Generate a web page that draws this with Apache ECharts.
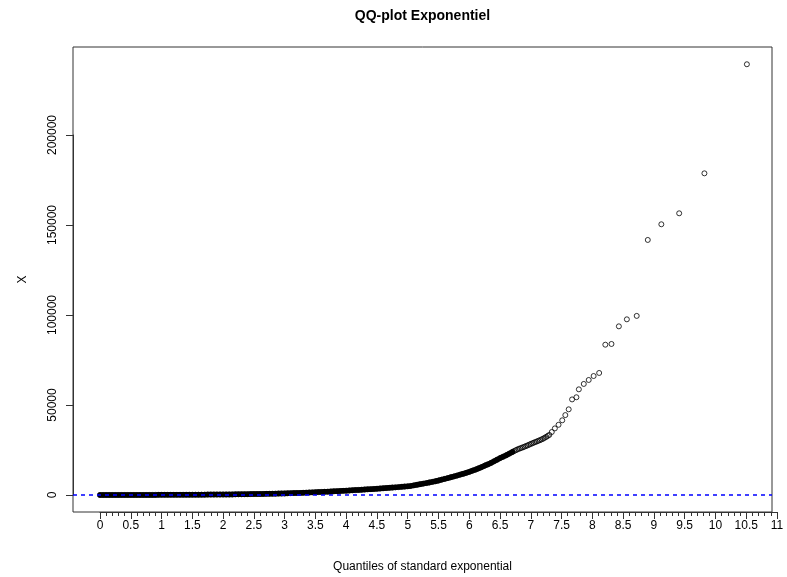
<!DOCTYPE html>
<html><head><meta charset="utf-8">
<script src="https://cdn.jsdelivr.net/npm/echarts@6/dist/echarts.min.js"></script>
<style>html,body{margin:0;padding:0;background:#fff}#c{width:787px;height:577px}</style>
</head><body><div id="c"></div>
<script>
// Theoretical quantiles (standard exponential) and sample values
const bodyQuantiles = [
  0.00,0.05,0.10,0.15,0.20,0.25,0.30,0.35,0.40,0.45,0.50,0.55,0.60,0.65,0.70,0.75,0.80,0.85,0.90,0.95,
  1.00,1.05,1.10,1.15,1.20,1.25,1.30,1.35,1.40,1.45,1.50,1.55,1.60,1.65,1.70,1.75,1.80,1.85,1.90,1.95,
  2.00,2.05,2.10,2.15,2.20,2.25,2.30,2.35,2.40,2.45,2.50,2.55,2.60,2.65,2.70,2.75,2.80,2.85,2.90,2.95,
  3.00,3.05,3.10,3.15,3.20,3.25,3.30,3.35,3.40,3.45,3.50,3.55,3.60,3.65,3.70,3.75,3.80,3.85,3.90,3.95,
  4.00,4.05,4.10,4.15,4.20,4.25,4.30,4.35,4.40,4.45,4.50,4.55,4.60,4.65,4.70,4.75,4.80,4.85,4.90,4.95,
  5.00,5.05,5.10,5.15,5.20,5.25,5.30,5.35,5.40,5.45,5.50,5.55,5.60,5.65,5.70,5.75,5.80,5.85,5.90,5.95,
  6.00,6.05,6.10,6.15,6.20,6.25,6.30,6.35,6.40,6.45,6.50,6.55,6.60,6.65,6.70
];
const bodyValues = [
  0,2,5,8,10,13,16,19,22,26,30,34,38,42,46,51,56,61,67,73,
  80,86,93,100,108,116,124,132,141,150,160,170,181,192,204,216,229,242,256,270,
  285,300,320,340,360,385,410,435,460,490,520,550,580,610,640,680,720,760,800,850,
  900,950,1000,1060,1120,1180,1250,1320,1390,1460,1540,1620,1700,1780,1860,1950,2040,2130,2220,2320,
  2420,2520,2620,2720,2820,2930,3040,3150,3260,3370,3490,3610,3730,3850,3980,4110,4240,4380,4520,4670,
  4820,5050,5350,5680,6000,6300,6600,6950,7300,7650,8050,8500,8950,9400,9850,10300,10800,11300,11800,12350,
  12900,13500,14100,14800,15500,16300,17000,17800,18700,19600,20500,21300,22100,23000,23900
];
const upperQuantiles = [6.725,6.75,6.775,6.80,6.825,6.85,6.875,6.90,6.925,6.95,6.975,7.00,7.025,7.05,7.075,7.10,7.125,7.15,7.175,7.20,7.225,7.25,7.275,7.30];
const upperValues = [24350,24800,25200,25600,25900,26200,26550,26900,27250,27600,28000,28400,28750,29100,29450,29800,30150,30500,30900,31300,31800,32300,32850,33400];
const tailQuantiles = [7.34,7.39,7.45,7.51,7.56,7.615,7.67,7.74,7.78,7.86,7.94,8.02,8.11,8.21,8.31,8.43,8.56,8.72,8.90,9.12,9.41,9.82,10.51];
const tailValues = [35000,37000,39000,41500,44400,47600,53100,54300,58700,61700,63900,66100,67800,83500,83900,93700,97600,99500,141700,150400,156500,178700,239300];

const xTickLabels = [0,0.5,1,1.5,2,2.5,3,3.5,4,4.5,5,5.5,6,6.5,7,7.5,8,8.5,9,9.5,10,10.5,11];
const yTickLabels = [0,50000,100000,150000,200000];
const referenceLine = [0];

const bodyPoints = bodyQuantiles.map((q, i) => [q, bodyValues[i]]);
const points = bodyPoints.slice();
upperQuantiles.forEach((q, i) => points.push([q, upperValues[i]]));
tailQuantiles.forEach((q, i) => points.push([q, tailValues[i]]));

const FONT = '"Liberation Sans", Arial, sans-serif';
const AX = '#333';
const BLUE = '#0000ff';
const chart = echarts.init(document.getElementById('c'), null, {renderer: 'canvas'});
chart.setOption({
  animation: false,
  backgroundColor: '#fff',
  textStyle: {fontFamily: FONT},
  graphic: [{
    type: 'text', x: 422.5, y: 16,
    style: {text: 'QQ-plot Exponentiel', font: 'bold 14px ' + FONT, fill: '#000', textAlign: 'center', textVerticalAlign: 'middle'}
  }],
  grid: [
    {left: 73, top: 47, width: 699, height: 465, show: true, borderColor: AX, borderWidth: 1, backgroundColor: 'transparent', outerBoundsMode: 'none', containLabel: false},
    {left: 100, top: 511, width: 677, height: 1, show: false, outerBoundsMode: 'none', containLabel: false},
    {left: 73, top: 135, width: 1, height: 360, show: false, outerBoundsMode: 'none', containLabel: false}
  ],
  xAxis: [
    {gridIndex: 0, type: 'value', min: -0.4387, max: 10.918,
     axisLine: {show: false}, axisTick: {show: false}, axisLabel: {show: false}, splitLine: {show: false},
     name: 'Quantiles of standard exponential', nameLocation: 'middle', nameGap: 49,
     nameTextStyle: {fontSize: 12, color: '#000', fontFamily: FONT}},
    {gridIndex: 1, type: 'value', min: 0, max: 11, interval: 0.5,
     axisLine: {show: true, lineStyle: {color: AX, width: 1}},
     axisTick: {show: true, length: 7, lineStyle: {color: AX}},
     minorTick: {show: true, splitNumber: 5, length: 4, lineStyle: {color: AX}},
     splitLine: {show: false}, minorSplitLine: {show: false},
     axisLabel: {fontSize: 12, color: '#000', margin: 8, fontFamily: FONT, showMinLabel: true, showMaxLabel: true,
       formatter: v => { const t = xTickLabels.find(l => Math.abs(l - v) < 1e-6); return t === undefined ? '' : String(t); }}},
    {gridIndex: 2, type: 'value', show: false, min: 0, max: 1}
  ],
  yAxis: [
    {gridIndex: 0, type: 'value', min: -9444, max: 248889,
     axisLine: {show: false}, axisTick: {show: false}, axisLabel: {show: false}, splitLine: {show: false},
     name: 'X', nameLocation: 'middle', nameGap: 44, nameRotate: 90,
     nameTextStyle: {fontSize: 12, color: '#000', fontFamily: FONT}},
    {gridIndex: 1, type: 'value', show: false, min: 0, max: 1},
    {gridIndex: 2, type: 'value', min: 0, max: 200000, interval: 50000,
     axisLine: {show: true, lineStyle: {color: AX}},
     axisTick: {show: true, length: 7, lineStyle: {color: AX}},
     splitLine: {show: false},
     axisLabel: {fontSize: 12, color: '#000', rotate: 90, margin: 14, fontFamily: FONT,
       formatter: v => { const t = yTickLabels.find(l => l === v); return t === undefined ? '' : String(t); }}}
  ],
  series: [
    {
      // saturated band formed by the thousands of overlapping points
      type: 'line', xAxisIndex: 0, yAxisIndex: 0,
      data: bodyPoints, showSymbol: false, silent: true,
      lineStyle: {color: '#000', width: 5.5, cap: 'round', join: 'round'},
      z: 2
    },
    {
      type: 'scatter', xAxisIndex: 0, yAxisIndex: 0,
      data: points,
      symbol: 'circle', symbolSize: 5,
      itemStyle: {color: 'rgba(0,0,0,0)', borderColor: '#000', borderWidth: 1},
      silent: true, z: 3,
      markLine: {
        silent: true, symbol: 'none', animation: false,
        label: {show: false},
        lineStyle: {color: BLUE, width: 1.5, type: [4, 4]},
        data: referenceLine.map(v => ({yAxis: v}))
      }
    }
  ]
});
</script>
</body></html>
